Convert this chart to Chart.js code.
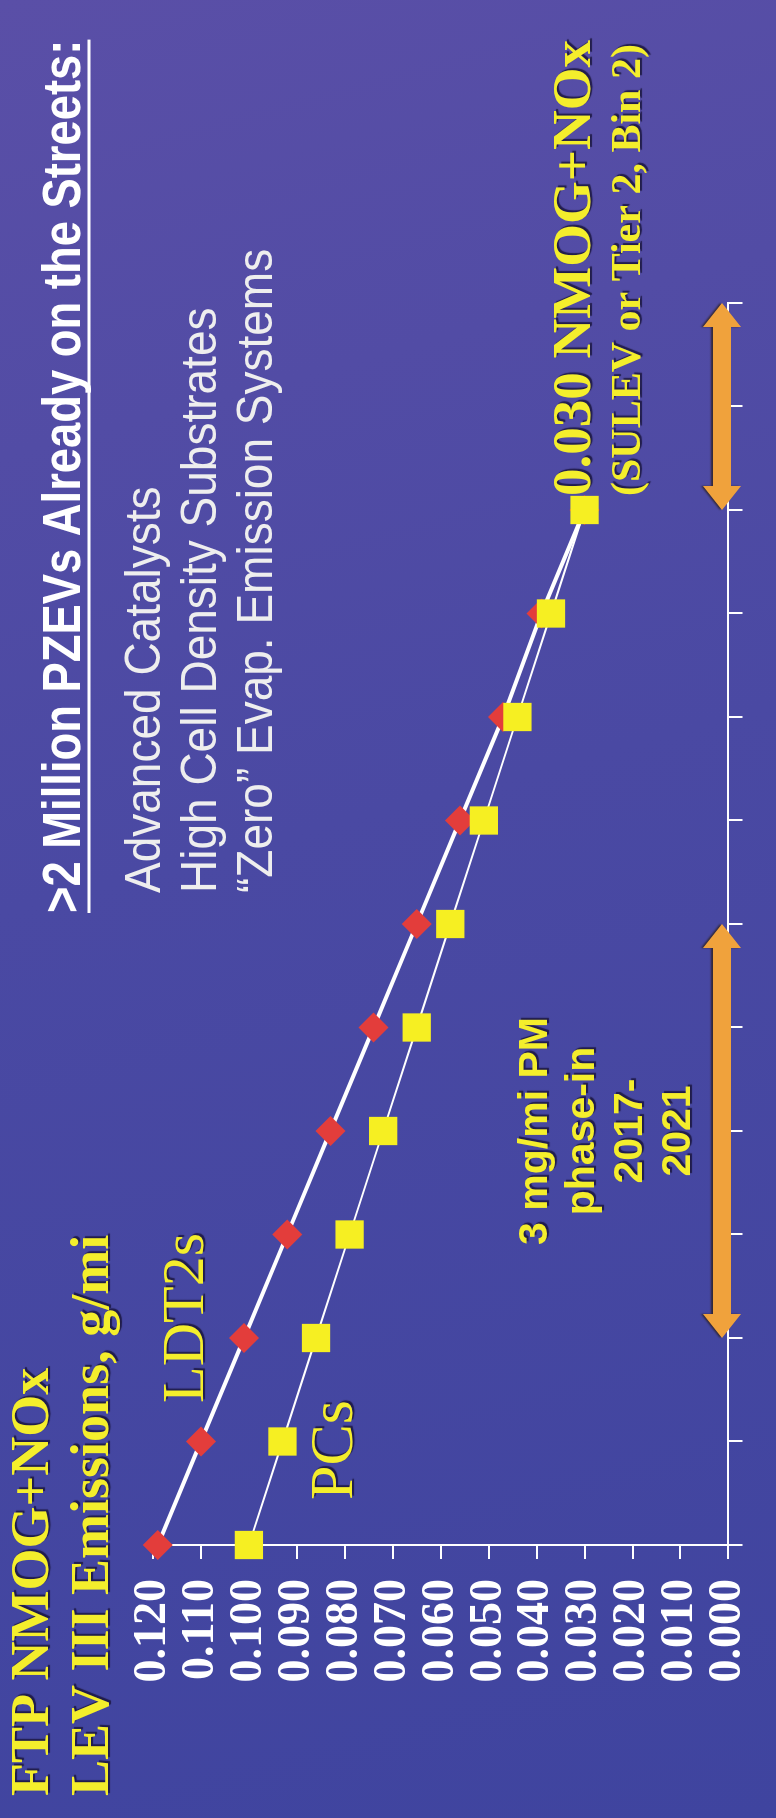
<!DOCTYPE html>
<html>
<head>
<meta charset="utf-8">
<title>FTP NMOG+NOx LEV III</title>
<script src="https://cdn.jsdelivr.net/npm/chart.js@4.4.0/dist/chart.umd.min.js"></script>
<style>
  html, body { margin: 0; padding: 0; width: 776px; height: 1818px; overflow: hidden; }
  body { background: linear-gradient(165deg, #5a4fa7 0%, #4a49a3 45%, #3f449f 100%); }
  /* the slide is laid out landscape and turned a quarter turn */
  #slide { position: absolute; left: 0; top: 0; width: 1818px; height: 776px;
           transform-origin: 0 0; transform: translate(0, 1818px) rotate(-90deg); }
</style>
</head>
<body>
<div id="slide"><canvas id="myChart" width="1818" height="776"></canvas></div>
<script>
// model years on the horizontal axis
const years = ["2015", "2016", "2017", "2018", "2019", "2020", "2021",
               "2022", "2023", "2024", "2025", "2026", "2027"];
// fleet average NMOG+NOx, g/mi
const ldt2s = [0.119, 0.110, 0.101, 0.092, 0.083, 0.074, 0.065, 0.056, 0.047, 0.039, 0.030, null, null];
const pcs = [0.100, 0.093, 0.086, 0.079, 0.072, 0.065, 0.058, 0.051, 0.044, 0.037, 0.030, null, null];
// value axis ticks
const yTicks = [0, 0.01, 0.02, 0.03, 0.04, 0.05, 0.06, 0.07, 0.08, 0.09, 0.10, 0.11, 0.12];
// phase-in spans for the arrows
const pmPhaseIn = ["2017", "2021"];
const finalSpan = ["2025", "2027"];

const YELLOW = "#f4ee2c";
const ORANGE = "#f0a23c";
const SERIF = "'Liberation Serif', 'Times New Roman', serif";
const SANS = "'Liberation Sans', Arial, sans-serif";

function put(ctx, str, px, py, font, color, opts) {
  opts = opts || {};
  ctx.save();
  ctx.font = font;
  ctx.fillStyle = color;
  ctx.textAlign = opts.align || "left";
  ctx.textBaseline = "alphabetic";
  ctx.translate(px, py);
  ctx.scale(opts.sx || 1, 1);
  if (opts.shadow) {
    ctx.shadowColor = "rgba(25, 20, 60, 0.85)";
    ctx.shadowOffsetX = 2;
    ctx.shadowOffsetY = 2;
    ctx.shadowBlur = 1;
  }
  ctx.fillText(str, 0, 0);
  const w = ctx.measureText(str).width * (opts.sx || 1);
  ctx.restore();
  return w;
}

function drawArrow(ctx, x1, x2, yc) {
  const shaft = 9, head = 19, len = 24;
  ctx.save();
  ctx.fillStyle = ORANGE;
  ctx.shadowColor = "rgba(40, 25, 10, 0.7)";
  ctx.shadowOffsetX = 0;
  ctx.shadowOffsetY = -2;
  ctx.shadowBlur = 2;
  ctx.beginPath();
  ctx.moveTo(x1, yc);
  ctx.lineTo(x1 + len, yc - head);
  ctx.lineTo(x1 + len, yc - shaft);
  ctx.lineTo(x2 - len, yc - shaft);
  ctx.lineTo(x2 - len, yc - head);
  ctx.lineTo(x2, yc);
  ctx.lineTo(x2 - len, yc + head);
  ctx.lineTo(x2 - len, yc + shaft);
  ctx.lineTo(x1 + len, yc + shaft);
  ctx.lineTo(x1 + len, yc + head);
  ctx.closePath();
  ctx.fill();
  ctx.restore();
}

const slideNotes = {
  id: "slideNotes",
  afterDraw(chart) {
    const ctx = chart.ctx;
    const xs = chart.scales.x;

    // chart title
    put(ctx, "FTP NMOG+NOx", 22, 48, "bold 54px " + SERIF, YELLOW, { shadow: true });
    put(ctx, "LEV III Emissions, g/mi", 22, 108, "bold 54px " + SERIF, YELLOW, { shadow: true });

    // heading and bullet lines
    const hx = 905;
    const hw = put(ctx, ">2 Million PZEVs Already on the Streets:", hx, 80, "bold 54px " + SANS, "#ffffff", { sx: 0.84 });
    ctx.save();
    ctx.strokeStyle = "#ffffff";
    ctx.lineWidth = 3;
    ctx.beginPath();
    ctx.moveTo(hx, 89);
    ctx.lineTo(hx + hw, 89);
    ctx.stroke();
    ctx.restore();
    const bulletFont = "50px " + SANS;
    put(ctx, "Advanced Catalysts", 925, 160, bulletFont, "#eeeeee", { sx: 0.92 });
    put(ctx, "High Cell Density Substrates", 925, 216, bulletFont, "#eeeeee", { sx: 0.92 });
    put(ctx, "\u201cZero\u201d Evap. Emission Systems", 925, 272, bulletFont, "#eeeeee", { sx: 0.92 });

    // series names
    put(ctx, "LDT2s", 415, 203, "60px " + SERIF, YELLOW, { shadow: true });
    put(ctx, "PCs", 318, 352, "62px " + SERIF, YELLOW, { shadow: true });

    // PM phase-in note, centred over its span
    const pmA = xs.getPixelForValue(years.indexOf(pmPhaseIn[0]));
    const pmB = xs.getPixelForValue(years.indexOf(pmPhaseIn[1]));
    const pmMid = (pmA + pmB) / 2;
    const pmFont = "bold 41px " + SANS;
    put(ctx, "3 mg/mi PM", pmMid, 547, pmFont, YELLOW, { align: "center", shadow: true });
    put(ctx, "phase-in", pmMid, 594, pmFont, YELLOW, { align: "center", shadow: true });
    put(ctx, "2017-", pmMid, 642, pmFont, YELLOW, { align: "center", shadow: true });
    put(ctx, "2021", pmMid, 690, pmFont, YELLOW, { align: "center", shadow: true });
    drawArrow(ctx, pmA, pmB, 722);

    // final standard note
    const fA = xs.getPixelForValue(years.indexOf(finalSpan[0]));
    const fB = xs.getPixelForValue(years.indexOf(finalSpan[1]));
    put(ctx, "0.030 NMOG+NOx", fA + 14, 590, "bold 55px " + SERIF, YELLOW, { shadow: true });
    put(ctx, "(SULEV or Tier 2, Bin 2)", fA + 14, 640, "bold 42px " + SERIF, YELLOW, { shadow: true });
    drawArrow(ctx, fA, fB, 722);
  }
};

new Chart(document.getElementById("myChart"), {
  type: "line",
  data: {
    labels: years,
    datasets: [
      {
        label: "PCs",
        data: pcs,
        borderColor: "#ffffff",
        borderWidth: 2,
        pointStyle: "rect",
        pointRadius: 20,
        pointBackgroundColor: "#f6ef22",
        pointBorderWidth: 0,
        tension: 0,
        clip: false,
      },
      {
        label: "LDT2s",
        data: ldt2s,
        borderColor: "#ffffff",
        borderWidth: 4,
        pointStyle: "rectRot",
        pointRadius: 15,
        pointBackgroundColor: "#e33d3b",
        pointBorderWidth: 0,
        tension: 0,
        clip: false,
      },
    ],
  },
  options: {
    responsive: false,
    animation: false,
    events: [],
    layout: { padding: { left: 0, right: 303, top: 153, bottom: 0 } },
    plugins: { legend: { display: false }, tooltip: { enabled: false } },
    scales: {
      x: {
        offset: false,
        grid: { display: true, drawOnChartArea: false, drawTicks: true, tickLength: 14, color: "#ffffff", lineWidth: 2 },
        border: { display: true, color: "#ffffff", width: 2 },
        ticks: { display: false },
        afterFit(scale) { scale.height = 22; },
      },
      y: {
        min: 0,
        max: 0.12,
        afterBuildTicks(scale) { scale.ticks = yTicks.map((v) => ({ value: v })); },
        grid: { display: true, drawOnChartArea: false, drawTicks: true, tickLength: 14, color: "#ffffff", lineWidth: 2 },
        border: { display: true, color: "#ffffff", width: 2 },
        ticks: {
          color: "#ffffff",
          padding: 20,
          autoSkip: false,
          font: { family: SERIF, weight: "bold", size: 46 },
          callback: (v) => Number(v).toFixed(3),
        },
        afterFit(scale) { scale.width = 273; },
      },
    },
  },
  plugins: [slideNotes],
});
</script>
</body>
</html>
